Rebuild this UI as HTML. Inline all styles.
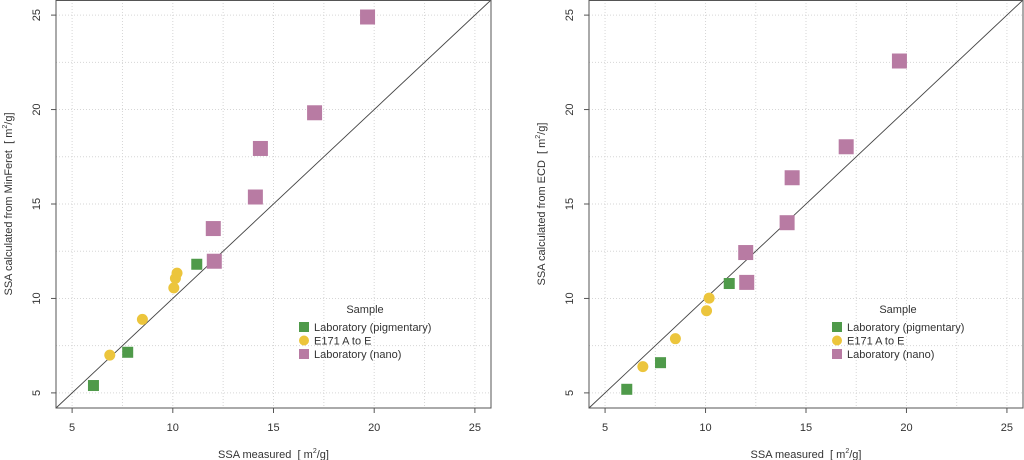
<!DOCTYPE html>
<html><head><meta charset="utf-8"><style>
body{margin:0;background:#fff;}
svg{display:block;font-family:"Liberation Sans",sans-serif;}
svg text{white-space:pre;}
</style></head><body>
<svg id="chart" width="1024" height="460"></svg>
<script>
const categories = ["Laboratory (pigmentary)", "E171 A to E", "Laboratory (nano)"];
const measuredPig = [6.06, 7.76, 11.19];
const measuredE171 = [6.87, 8.49, 10.05, 10.13, 10.21];
const measuredNano = [12.01, 12.06, 14.10, 14.35, 17.04, 19.67];
const leftPig = [5.39, 7.15, 11.81];
const leftE171 = [7.0, 8.89, 10.56, 11.06, 11.34];
const leftNano = [13.70, 11.97, 15.37, 17.94, 19.83, 24.90];
const rightPigX = [6.08, 7.76, 11.18];
const rightPig = [5.19, 6.60, 10.79];
const rightE171X = [6.88, 8.50, 10.05, 10.18];
const rightE171 = [6.39, 7.87, 9.35, 10.02];
const rightNanoX = [12.00, 12.05, 14.06, 14.31, 17.00, 19.65];
const rightNano = [12.43, 10.85, 14.01, 16.39, 18.03, 22.57];
const tickLabels = [5, 10, 15, 20, 25];
const gridVals = [5, 7.5, 10, 12.5, 15, 17.5, 20, 22.5, 25];
const yTitles = ["SSA calculated from MinFeret", "SSA calculated from ECD"];

const NS = "http://www.w3.org/2000/svg";
const svg = document.getElementById("chart");
function mk(tag, attrs, parent){const e=document.createElementNS(NS,tag);for(const k in attrs)e.setAttribute(k,attrs[k]);(parent||svg).appendChild(e);return e;}
const colors = ["#4f9a4a", "#ecc53c", "#b87ba3"];

function panel(idx, x0, x1, pig, e171, nano){
  const g = mk("g",{});
  
  
  const top=0, bot=408, lo=4.2, hi=25.8;
  const sx=v=>x0+(v-lo)/(hi-lo)*(x1-x0);
  const sy=v=>bot-(v-lo)/(hi-lo)*(bot-top);
  gridVals.forEach(v=>{
    const gl=mk("line",{x1:sx(v),x2:sx(v),y1:top,y2:bot,stroke:"#d6d6d6","stroke-dasharray":"1,2","stroke-width":1},g);
    
    
    const gh=mk("line",{x1:x0,x2:x1,y1:sy(v),y2:sy(v),stroke:"#d6d6d6","stroke-dasharray":"1,2","stroke-width":1},g);
    
    
  });
  const diag=mk("line",{x1:sx(lo),y1:sy(lo),x2:sx(hi),y2:sy(hi),stroke:"#444","stroke-width":0.9},g);
  
  
  const fr=mk("rect",{x:x0,y:top+0.5,width:x1-x0,height:bot-top-0.5,fill:"none",stroke:"#555","stroke-width":1},g);
  
  
  tickLabels.forEach(v=>{
    const t=mk("line",{x1:sx(v),x2:sx(v),y1:bot,y2:bot+5,stroke:"#555"},g);
    
    
    const tl=mk("text",{x:sx(v),y:bot+23,"font-size":11,fill:"#333","text-anchor":"middle"},g);
    tl.textContent=v;
    
    
    const ty=mk("line",{x1:x0-5,x2:x0,y1:sy(v),y2:sy(v),stroke:"#555"},g);
    
    
    const yl=mk("text",{x:x0-16,y:sy(v),"font-size":11,fill:"#333","text-anchor":"middle",transform:`rotate(-90 ${x0-16} ${sy(v)})`},g);
    yl.textContent=v;
    
    
  });
  const xt=mk("text",{x:(x0+x1)/2,y:458,"font-size":11,fill:"#333","text-anchor":"middle"},g);
  xt.innerHTML='SSA measured  [ m<tspan dy="-5" font-size="7">2</tspan><tspan dy="5">/g]</tspan>';
  
  
  const yx=x0-44, yy=(top+bot)/2;
  const yt=mk("text",{x:yx,y:yy,"font-size":11,fill:"#333","text-anchor":"middle",transform:`rotate(-90 ${yx} ${yy})`},g);
  yt.innerHTML=yTitles[idx]+'  [ m<tspan dy="-5" font-size="7">2</tspan><tspan dy="5">/g]</tspan>';
  
  
  pig[0].forEach((x,i)=>{const s=11;const r=mk("rect",{x:sx(x)-s/2,y:sy(pig[1][i])-s/2,width:s,height:s,fill:colors[0]},g);
    
    });
  e171[0].forEach((x,i)=>{const c=mk("circle",{cx:sx(x),cy:sy(e171[1][i]),r:5.5,fill:colors[1]},g);
    
    });
  nano[0].forEach((x,i)=>{const s=15;const r=mk("rect",{x:sx(x)-s/2,y:sy(nano[1][i])-s/2,width:s,height:s,fill:colors[2]},g);
    
    });
  const lx=x0+248;
  const lg=mk("g",{},g);
  
  
  const lt=mk("text",{x:lx+61,y:313,"font-size":11,fill:"#333","text-anchor":"middle"},lg);
  lt.textContent="Sample";
  
  
  categories.forEach((c,i)=>{
    const cy=327+i*13.5;
    let m;
    if(i===1) m=mk("circle",{cx:lx,cy:cy,r:5,fill:colors[i]},lg);
    else m=mk("rect",{x:lx-5,y:cy-5,width:10,height:10,fill:colors[i]},lg);
    
    
    const t=mk("text",{x:lx+10,y:cy+4,"font-size":11,fill:"#333"},lg);
    t.textContent=c;
    
    
  });
}
panel(0,56,491,[measuredPig,leftPig],[measuredE171,leftE171],[measuredNano,leftNano]);
panel(1,589,1023,[rightPigX,rightPig],[rightE171X,rightE171],[rightNanoX,rightNano]);
</script>
</body></html>
